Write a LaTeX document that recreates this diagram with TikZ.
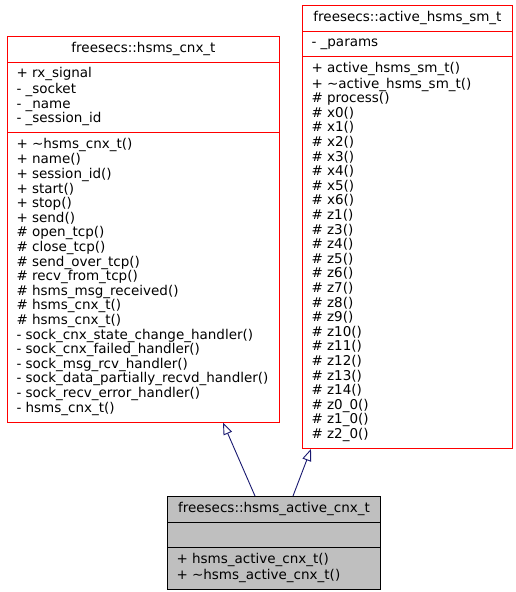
\documentclass[tikz,border=0pt]{standalone}
\usepackage{fontspec}
\setmainfont{DejaVu Sans}
\usetikzlibrary{arrows.meta,shapes.multipart,calc}
\definecolor{classred}{HTML}{FF0000}
\definecolor{edgeblue}{HTML}{191970}
\definecolor{classgray}{HTML}{BFBFBF}

\begin{document}
\begin{tikzpicture}[x=1pt,y=-1pt,
  umlclass/.style={rectangle split,rectangle split parts=3,draw=classred,
    line width=1pt,rectangle split part align={center,left,left},align=left,
    inner xsep=9pt,inner ysep=5pt,font=\fontsize{13.5}{14.6}\selectfont},
  derived/.style={umlclass,draw=black,fill=classgray},
  inherit/.style={-{Triangle[open,length=12pt,width=9pt]},edgeblue,line width=0.9pt}
]
\useasboundingbox (0,0) rectangle (515,592);
% base classes
\node[umlclass,minimum width=272pt,anchor=north west] (hsmscnx) at (7,36)
  {\strut freesecs::hsms\_cnx\_t
   \nodepart{two}\strut + rx\_signal\\- \_socket\\- \_name\\\strut - \_session\_id
   \nodepart{three}\strut + \textasciitilde hsms\_cnx\_t()\\+ name()\\+ session\_id()\\
   + start()\\+ stop()\\+ send()\\\# open\_tcp()\\\# close\_tcp()\\
   \# send\_over\_tcp()\\\# recv\_from\_tcp()\\\# hsms\_msg\_received()\\
   \# hsms\_cnx\_t()\\\# hsms\_cnx\_t()\\- sock\_cnx\_state\_change\_handler()\\
   - sock\_cnx\_failed\_handler()\\- sock\_msg\_rcv\_handler()\\
   - sock\_data\_partially\_recvd\_handler()\\- sock\_recv\_error\_handler()\\
   \strut - hsms\_cnx\_t()};
\node[umlclass,minimum width=210pt,anchor=north west] (activesm) at (302,5)
  {\strut freesecs::active\_hsms\_sm\_t
   \nodepart{two}\strut - \_params
   \nodepart{three}\strut + active\_hsms\_sm\_t()\\+ \textasciitilde active\_hsms\_sm\_t()\\
   \# process()\\\# x0()\\\# x1()\\\# x2()\\\# x3()\\\# x4()\\\# x5()\\\# x6()\\
   \# z1()\\\# z3()\\\# z4()\\\# z5()\\\# z6()\\\# z7()\\\# z8()\\\# z9()\\
   \# z10()\\\# z11()\\\# z12()\\\# z13()\\\# z14()\\\# z0\_0()\\\# z1\_0()\\
   \strut\# z2\_0()};
% derived class
\node[derived,minimum width=213pt,anchor=north west] (hsmsactive) at (167,496)
  {\strut freesecs::hsms\_active\_cnx\_t
   \nodepart{two}\strut
   \nodepart{three}\strut + hsms\_active\_cnx\_t()\\\strut + \textasciitilde hsms\_active\_cnx\_t()};
\draw[inherit] ($(hsmsactive.north west)+(88,0)$) -- ($(hsmscnx.south west)+(216,0)$);
\draw[inherit] ($(hsmsactive.north west)+(126,0)$) -- ($(activesm.south west)+(9,0)$);
\end{tikzpicture}
\end{document}
